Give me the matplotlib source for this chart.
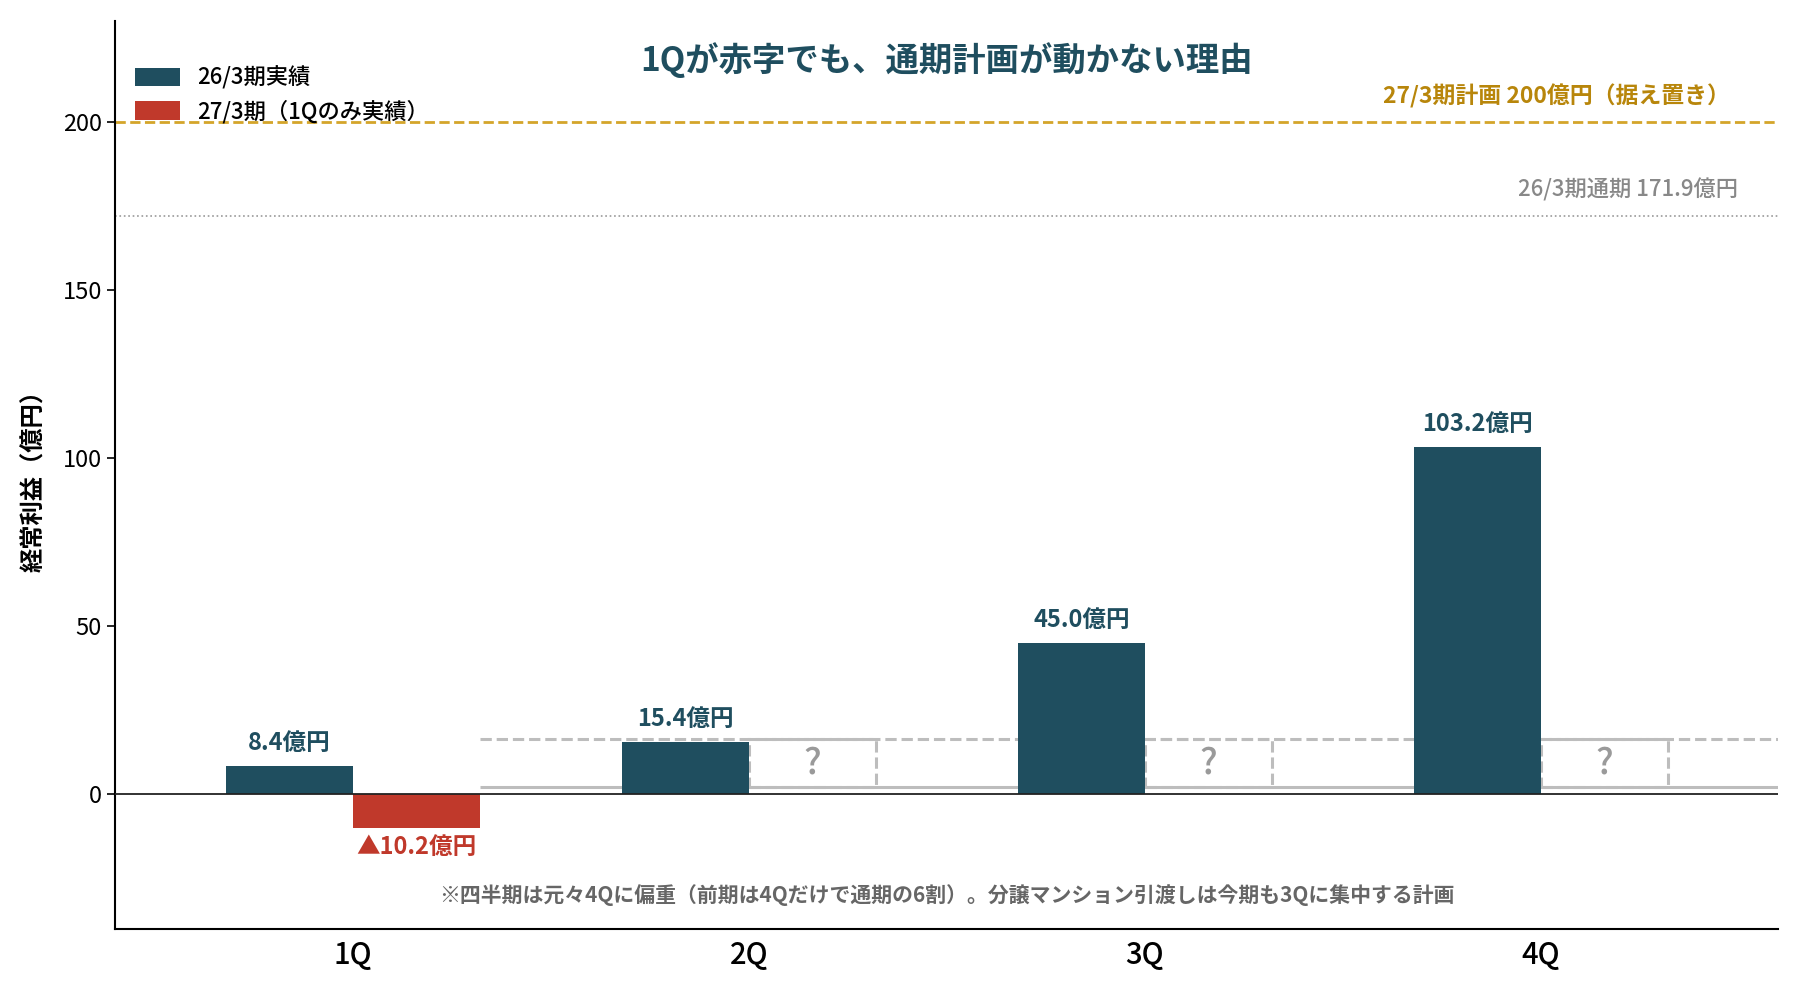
import matplotlib
matplotlib.use("Agg")
import matplotlib.pyplot as plt
import numpy as np

plt.rcParams['font.family'] = ['Noto Sans CJK JP', 'DejaVu Sans']

quarters = ["1Q", "2Q", "3Q", "4Q"]
prev_values = [8.4, 15.4, 45.0, 103.2]          # 26/3期実績
curr_values = [-10.2]                           # 27/3期 (1Qのみ実績)
ghost_bottom = 2.0
ghost_top = 16.3
plan_total = 200
prev_total = 171.9
series_labels = ["26/3期実績", "27/3期（1Qのみ実績）"]
prev_labels = ["8.4億円", "15.4億円", "45.0億円", "103.2億円"]
curr_labels = ["▲10.2億円"]
title = "1Qが赤字でも、通期計画が動かない理由"
plan_label = "27/3期計画 200億円（据え置き）"
prev_total_label = "26/3期通期 171.9億円"
footnote = "※四半期は元々4Qに偏重（前期は4Qだけで通期の6割）。分譲マンション引渡しは今期も3Qに集中する計画"
ylabel = "経常利益（億円）"

C_DARK = "#1f4e5f"
C_RED = "#c0392b"
C_GOLD = "#d4a52a"
C_GOLD_T = "#b8860b"
C_GHOST = "#bdbdbd"

fig = plt.figure(figsize=(18, 9.9), dpi=100)
ax = fig.add_axes([0.064, 0.062, 0.924, 0.917])

x = np.arange(len(quarters))
w = 0.32
xlim = (-0.6, 3.6)

ax.bar(x - w / 2, prev_values, width=w, color=C_DARK, label=series_labels[0], zorder=3)
ax.bar(x[:1] + w / 2, curr_values, width=w, color=C_RED, label=series_labels[1], zorder=3)

# ghost boxes for unknown quarters
gx = x[len(curr_values):] + w / 2
ax.bar(gx, [ghost_top - ghost_bottom] * len(gx), bottom=ghost_bottom, width=w,
       fill=False, edgecolor=C_GHOST, linestyle="--", linewidth=2.2, zorder=2)
for xi in gx:
    ax.text(xi, (ghost_top + ghost_bottom) / 2, "?", ha="center", va="center",
            fontsize=26, color="#9a9a9a", fontweight="medium", zorder=4)
x_start = x[0] + w
ax.hlines(ghost_top, x_start, xlim[1], colors=C_GHOST, linestyles="--", linewidth=2.2, zorder=2)
ax.hlines(ghost_bottom, x_start, xlim[1], colors=C_GHOST, linestyles="-", linewidth=2.2, zorder=2)

ax.axhline(0, color="#222222", linewidth=1.3, zorder=4)
ax.axhline(plan_total, color=C_GOLD, linestyle="--", linewidth=2, zorder=1)
ax.axhline(prev_total, color="#999999", linestyle=":", linewidth=1.2, zorder=1)

ax.text(0.971, plan_total + 4, plan_label, transform=ax.get_yaxis_transform(),
        ha="right", va="bottom", fontsize=16.5, color=C_GOLD_T, fontweight="bold")
ax.text(0.976, prev_total + 4.5, prev_total_label, transform=ax.get_yaxis_transform(),
        ha="right", va="bottom", fontsize=16, color="#888888", fontweight="medium")

for xi, v, lab in zip(x, prev_values, prev_labels):
    ax.annotate(lab, (xi - w / 2, v), xytext=(0, 8), textcoords="offset points",
                ha="center", va="bottom", fontsize=17, color=C_DARK, fontweight="bold")
for xi, v, lab in zip(x[:len(curr_values)], curr_values, curr_labels):
    ax.annotate(lab, (xi + w / 2, v), xytext=(0, -5), textcoords="offset points",
                ha="center", va="top", fontsize=17, color=C_RED, fontweight="bold")

ax.text(0.5, 0.957, title, transform=ax.transAxes, ha="center", va="center",
        fontsize=24, color=C_DARK, fontweight="bold")
ax.text(0.5, -30, footnote, transform=ax.get_yaxis_transform(), ha="center", va="center",
        fontsize=15, color="#666666", fontweight="bold")

ax.set_xlim(*xlim)
ax.set_ylim(-40, 230)
ax.set_xticks(x)
ax.set_xticklabels(quarters, fontsize=21, fontweight="medium")
ax.set_yticks([0, 50, 100, 150, 200])
ax.tick_params(axis="y", labelsize=17, length=6, width=1.2)
ax.tick_params(axis="x", length=0, pad=8)
ax.set_ylabel(ylabel, fontsize=17.5, fontweight="bold", labelpad=12)
for s in ["top", "right"]:
    ax.spines[s].set_visible(False)
ax.spines["left"].set_linewidth(1.5)
ax.spines["bottom"].set_linewidth(1.5)

leg = ax.legend(loc="upper left", bbox_to_anchor=(0.0, 0.972), frameon=False,
                prop={"size": 16, "weight": "medium"},
                handlelength=2.0, handleheight=0.9, labelspacing=0.45)

fig.savefig("out.png", dpi=100)
